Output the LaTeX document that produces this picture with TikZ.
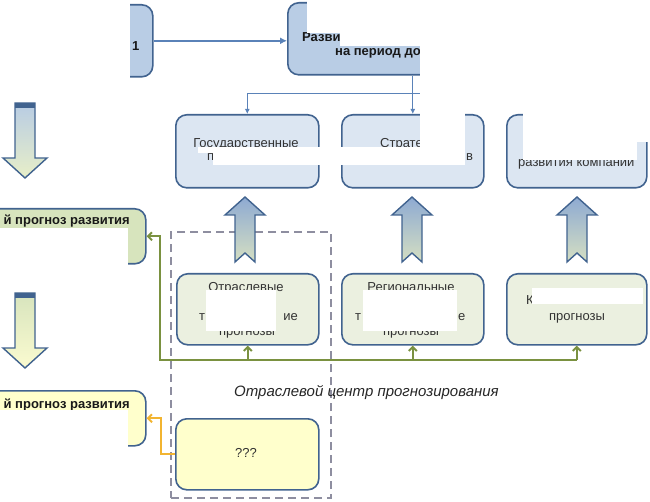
\documentclass[tikz,border=0pt]{standalone}
\usepackage{fontspec}
\setmainfont{Liberation Sans}
\usetikzlibrary{arrows.meta}
\definecolor{bd}{HTML}{41638F}
\definecolor{topfill}{HTML}{B9CDE5}
\definecolor{rowtwo}{HTML}{DCE6F2}
\definecolor{rowthree}{HTML}{EBF0E0}
\definecolor{lgreen}{HTML}{D7E4BD}
\definecolor{lyellow}{HTML}{FFFFCC}
\definecolor{linkblue}{HTML}{5A82B8}
\definecolor{olive}{HTML}{7A9140}
\definecolor{amber}{HTML}{F2B430}
\definecolor{dashgray}{HTML}{8E8EA0}
\definecolor{arblue}{HTML}{8EAAD2}
\definecolor{argreen}{HTML}{D5DFC2}
\definecolor{arsky}{HTML}{B8CCE4}
\definecolor{arlime}{HTML}{E8EFC8}
\definecolor{arpale}{HTML}{FBFBD0}
\tikzset{
 box/.style={draw=bd, line width=1.6pt, rounded corners=11pt, inner sep=0pt, anchor=north west},
 txt/.style={inner sep=0pt, font=\fontsize{13}{15}\selectfont, text=black!80},
 btxt/.style={inner sep=0pt, font=\bfseries\fontsize{13}{15}\selectfont, text=black!90},
 blink/.style={draw=linkblue, line width=1pt, -{Latex[length=5pt,width=5pt]}},
 bmain/.style={draw=linkblue, line width=2pt, -{Latex[length=7pt,width=7pt]}},
 glink/.style={draw=olive, line width=2pt, -{Straight Barb[length=4pt,width=8pt]}},
 olink/.style={draw=amber, line width=2pt, -{Straight Barb[length=4pt,width=8pt]}},
 uparrow/.style={draw=bd, line width=1.4pt, top color=arblue, bottom color=argreen},
 mask/.style={fill=white, draw=none}
}
\begin{document}
\begin{tikzpicture}[x=1pt,y=-1pt]
\useasboundingbox (0,0) rectangle (650,502);

% main boxes
\node[box, fill=topfill, minimum width=192pt, minimum height=72pt] (tl) at (-40,4) {};
\node[box, fill=topfill, minimum width=240pt, minimum height=72pt] (top) at (287,2) {};
\node[box, fill=rowtwo, minimum width=143pt, minimum height=73pt] (b1) at (175,114) {};
\node[box, fill=rowtwo, minimum width=142pt, minimum height=73pt] (b2) at (341,114) {};
\node[box, fill=rowtwo, minimum width=140pt, minimum height=73pt] (b3) at (506,114) {};
\node[box, fill=rowthree, minimum width=142pt, minimum height=71pt] (c1) at (176,273) {};
\node[box, fill=rowthree, minimum width=142pt, minimum height=71pt] (c2) at (341,273) {};
\node[box, fill=rowthree, minimum width=140pt, minimum height=71pt] (c3) at (506,273) {};
\node[box, fill=lyellow, minimum width=143pt, minimum height=71pt] (d) at (175,418) {};
\node[box, fill=lgreen, minimum width=185pt, minimum height=55pt] (l1) at (-40,208) {};
\node[box, fill=lyellow, minimum width=185pt, minimum height=55pt] (l2) at (-40,390) {};
\node[draw=dashgray, line width=2.2pt, dash pattern=on 8pt off 5pt, inner sep=0pt,
      anchor=north west, minimum width=160pt, minimum height=266pt] (fc) at (170,231) {};

% down block arrows (left)
\draw[draw=bd, line width=1.4pt, top color=arsky, bottom color=arlime]
  (15,103) -- (35,103) -- (35,158) -- (47,158) -- (25,178) -- (3,158) -- (15,158) -- cycle;
\fill[bd] (15,103) rectangle (35,108);
\draw[draw=bd, line width=1.4pt, top color=lgreen, bottom color=arpale]
  (15,293) -- (35,293) -- (35,348) -- (47,348) -- (25,368) -- (3,348) -- (15,348) -- cycle;
\fill[bd] (15,293) rectangle (35,298);

% up block arrows
\foreach \cx in {245,412,577}{
  \draw[uparrow] (\cx,197) -- (\cx+20,215) -- (\cx+10,215) -- (\cx+10,262) -- (\cx,253)
    -- (\cx-10,262) -- (\cx-10,215) -- (\cx-20,215) -- cycle;
}

% blue connectors
\draw[bmain] (tl.east) -- (top.west |- tl.east);
\coordinate (br) at (425,94);
\draw[blink] (b2.north |- top.south) -- (b2.north);
\draw[blink] (br) -- (b1.north |- br) -- (b1.north);

% green connectors
\coordinate (gc) at (160,360);
\draw[glink] (c3.south |- gc) -- (gc) -- (gc |- l1.east) -- (l1.east);
\draw[glink] (c1.south |- gc) -- (c1.south);
\draw[glink] (c2.south |- gc) -- (c2.south);
\draw[glink] (c3.south |- gc) -- (c3.south);

% amber connector
\coordinate (oc) at (161,452);
\draw[olink] (d.west) -- (d.west -| oc) -- (oc |- l2.east) -- (l2.east);

% texts
\node[btxt, anchor=base west] (t1) at (132,51) {1};
\node[btxt, anchor=base west] (t2) at (302,42) {Разви};
\node[btxt, anchor=base west] (t3) at (335,56) {на период до};
\node[txt, anchor=base] (t4) at (246,148) {Государственные};
\node[txt, anchor=base west] (t5) at (207,161) {п};
\node[txt, anchor=base west] (t6) at (380,148) {Стратегии};
\node[txt, anchor=base west] (t7) at (466,161) {в};
\node[txt, anchor=base west] (t8) at (518,167) {развития компании};
\node[txt, anchor=base] (t9) at (246,292) {Отраслевые};
\node[txt, anchor=base west] (t10) at (199,320) {т};
\node[txt, anchor=base east] (t11) at (298,320) {ие};
\node[txt, anchor=base] (t12) at (247,335) {прогнозы};
\node[txt, anchor=base] (t13) at (411,292) {Региональные};
\node[txt, anchor=base west] (t14) at (355,320) {т};
\node[txt, anchor=base west] (t15) at (458,320) {е};
\node[txt, anchor=base] (t16) at (411,335) {прогнозы};
\node[txt, anchor=base west] (t17) at (526,305) {К};
\node[txt, anchor=base] (t18) at (577,320) {прогнозы};
\node[btxt, anchor=base east] (t19) at (130,225) {й прогноз развития};
\node[btxt, anchor=base east] (t20) at (130,408) {й прогноз развития};
\node[txt, anchor=base] (t21) at (246,457) {???};
\node[inner sep=0pt, anchor=base west, font=\itshape\fontsize{15}{17}\selectfont, text=black!85] (lab) at (234,396) {Отраслевой центр прогнозирования};

% white patches as in the picture
\fill[mask] (-2,-2) rectangle (130,90);
\fill[mask] (307,-2) rectangle (652,33);
\fill[mask] (340,33) rectangle (652,46);
\fill[mask] (420,46) rectangle (465,165);
\fill[mask] (465,46) rectangle (652,100);
\fill[mask] (523,100) rectangle (637,160);
\fill[mask] (637,100) rectangle (652,142);
\fill[mask] (198,147) rectangle (465,153);
\fill[mask] (213,153) rectangle (465,165);
\fill[mask] (206,290) rectangle (276,331);
\fill[mask] (363,290) rectangle (457,331);
\fill[mask] (532,288) rectangle (643,304);
\fill[mask] (-2,228) rectangle (128,270);
\fill[mask] (-2,410) rectangle (128,452);
\end{tikzpicture}
\end{document}
